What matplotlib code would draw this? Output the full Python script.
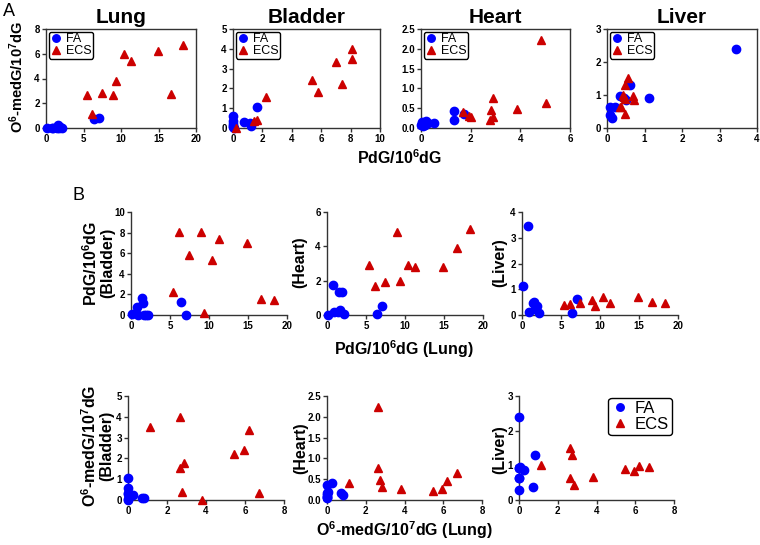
import matplotlib
matplotlib.use("Agg")
import matplotlib.pyplot as plt
from matplotlib.ticker import MultipleLocator, FormatStrFormatter

plt.rcParams['font.family'] = ['Liberation Sans', 'DejaVu Sans']
plt.rcParams['font.weight'] = 'bold'
plt.rcParams['mathtext.default'] = 'regular'

# FA group, 10 animals (PdG per 10^6 dG, O6-medG per 10^7 dG)
fa_lung_pdg = [0.15, 0.8, 0.87, 1.45, 1.58, 1.68, 1.9, 2.15, 6.35, 7.0]
fa_lung_o6 = [0.0, 0.0, 0.0, 0.0, 0.26, 0.0, 0.05, 0.0, 0.72, 0.8]
fa_bladder_pdg = [0.1, 0.75, 0.0, 1.65, 1.13, 0.0, 0.03, 0.03, 1.23, 0.0]
fa_bladder_o6 = [0.0, 0.3, 0.59, 1.07, 0.24, 0.35, 0.19, 0.03, 0.11, 0.11]
fa_heart_pdg = [0.0, 1.74, 0.19, 0.17, 1.33, 0.27, 1.32, 0.08, 0.06, 0.54]
fa_heart_o6 = [0.07, 0.36, 0.17, 0.08, 0.42, 0.13, 0.2, 0.06, 0.16, 0.12]
fa_liver_pdg = [1.11, 3.45, 0.12, 0.45, 0.5, 0.22, 0.35, 0.09, 0.09, 0.61]
fa_liver_o6 = [0.92, 2.4, 0.3, 0.92, 0.86, 0.63, 0.96, 0.63, 0.38, 1.31]

# ECS group, 10 animals
ecs_lung_pdg = [5.4, 6.1, 7.4, 8.95, 9.35, 10.4, 11.3, 14.9, 16.65, 18.3]
ecs_lung_o6 = [2.65, 1.15, 2.85, 2.65, 3.8, 5.95, 5.45, 6.2, 2.75, 6.7]
ecs_bladder_pdg = [2.25, 8.1, 5.8, 8.1, 0.2, 5.35, 7.4, 7.0, 1.6, 1.45]
ecs_bladder_o6 = [1.55, 3.5, 1.8, 4.0, 0.0, 2.4, 2.2, 3.35, 0.39, 0.35]
ecs_heart_pdg = [2.9, 1.7, 1.93, 4.82, 2.0, 2.9, 2.78, 2.82, 3.88, 5.03]
ecs_heart_o6 = [0.77, 0.41, 0.31, 2.23, 0.27, 0.27, 0.21, 0.45, 0.49, 0.64]
ecs_liver_pdg = [0.37, 0.43, 0.48, 0.57, 0.35, 0.71, 0.48, 0.70, 0.49, 0.46]
ecs_liver_o6 = [0.64, 1.0, 0.42, 1.51, 0.65, 0.84, 0.88, 0.98, 1.31, 0.94]

BLUE = '#0000ff'
RED = '#cc0000'
SPINE = '#333333'

W, H = 760, 545
fig = plt.figure(figsize=(W / 100, H / 100), dpi=100)


def px_axes(x0, y0, x1, y1):
    return fig.add_axes([x0 / W, 1 - y1 / H, (x1 - x0) / W, (y1 - y0) / H])


def px_text(x, y, s, **kw):
    fig.text(x / W, 1 - y / H, s, **kw)


def draw(ax, fx, fy, ex, ey, xlim, xstep, ylim, ystep, box=True, yfmt='%g'):
    ax.plot(fx, fy, 'o', color=BLUE, ms=6, mec=BLUE, clip_on=False, label='FA', zorder=3)
    ax.plot(ex, ey, '^', color=RED, ms=6, mec=RED, clip_on=False, label='ECS', zorder=3)
    ax.set_xlim(*xlim)
    ax.set_ylim(*ylim)
    ax.xaxis.set_major_locator(MultipleLocator(xstep))
    ax.yaxis.set_major_locator(MultipleLocator(ystep))
    ax.yaxis.set_major_formatter(FormatStrFormatter(yfmt))
    ax.tick_params(direction='out', length=3, width=1, labelsize=7, pad=1.5, color=SPINE)
    for side in ['left', 'bottom', 'top', 'right']:
        ax.spines[side].set_color(SPINE)
        ax.spines[side].set_linewidth(1)
    if not box:
        ax.spines['top'].set_visible(False)
        ax.spines['right'].set_visible(False)


pdg_lab = 'PdG/10$^{6}$dG'
o6_lab = 'O$^{6}$-medG/10$^{7}$dG'

# ---- A: PdG vs O6-medG in each tissue
top = [
    ('Lung', (46, 196), fa_lung_pdg, fa_lung_o6, ecs_lung_pdg, ecs_lung_o6, (0, 20), 5, (0, 8), 2, '%g'),
    ('Bladder', (233, 380), fa_bladder_pdg, fa_bladder_o6, ecs_bladder_pdg, ecs_bladder_o6, (0, 10), 2, (0, 5), 1, '%g'),
    ('Heart', (421, 570), fa_heart_pdg, fa_heart_o6, ecs_heart_pdg, ecs_heart_o6, (0, 6), 2, (0, 2.5), 0.5, '%.1f'),
    ('Liver', (607, 757), fa_liver_pdg, fa_liver_o6, ecs_liver_pdg, ecs_liver_o6, (0, 4), 1, (0, 3), 1, '%g'),
]
for name, (x0, x1), fx, fy, ex, ey, xl, xs, yl, ys, yf in top:
    ax = px_axes(x0, 29, x1, 128)
    draw(ax, fx, fy, ex, ey, xl, xs, yl, ys, box=True, yfmt=yf)
    ax.set_title(name, fontsize=15, fontweight='bold', pad=4)
    ax.legend(loc='upper left', prop={'weight': 'normal', 'size': 9}, frameon=True,
              edgecolor='black', fancybox=True, framealpha=1, handletextpad=0.3,
              borderpad=0.12, labelspacing=0.0, handlelength=1.0, borderaxespad=0.2,
              markerscale=0.9)

px_text(17, 77, o6_lab, rotation=90, ha='center', va='center', fontsize=10.5)
px_text(400, 158, pdg_lab, ha='center', va='center', fontsize=11.5)

# ---- B row 1: lung PdG vs tissue PdG
row1 = [
    ((131, 287), fa_bladder_pdg, ecs_bladder_pdg, (0, 10), 2),
    ((327, 483), fa_heart_pdg, ecs_heart_pdg, (0, 6), 2),
    ((522, 678), fa_liver_pdg, ecs_liver_pdg, (0, 4), 1),
]
for (x0, x1), fy, ey, yl, ys in row1:
    ax = px_axes(x0, 212, x1, 315)
    draw(ax, fa_lung_pdg, fy, ecs_lung_pdg, ey, (0, 20), 5, yl, ys, box=False)

px_text(98, 263, pdg_lab + '\n(Bladder)', rotation=90, ha='center', va='center',
        fontsize=11.5, multialignment='center', linespacing=1.0)
px_text(300, 262, '(Heart)', rotation=90, ha='center', va='center', fontsize=11.5)
px_text(500, 263, '(Liver)', rotation=90, ha='center', va='center', fontsize=11.5)
px_text(404, 349, pdg_lab + ' (Lung)', ha='center', va='center', fontsize=11.5)

# ---- B row 2: lung O6-medG vs tissue O6-medG
row2 = [
    ((128, 284), fa_bladder_o6, ecs_bladder_o6, (0, 5), 1, '%g'),
    ((327, 482), fa_heart_o6, ecs_heart_o6, (0, 2.5), 0.5, '%.1f'),
    ((519, 674), fa_liver_o6, ecs_liver_o6, (0, 3), 1, '%g'),
]
for (x0, x1), fy, ey, yl, ys, yf in row2:
    ax = px_axes(x0, 396, x1, 500)
    draw(ax, fa_lung_o6, fy, ecs_lung_o6, ey, (0, 8), 2, yl, ys, box=False, yfmt=yf)
last = ax
last.legend(loc='upper right', prop={'weight': 'normal', 'size': 12}, frameon=True,
            edgecolor='black', fancybox=True, framealpha=1, handletextpad=0.4,
            borderpad=0.2, labelspacing=0.05, handlelength=1.0, borderaxespad=0.1,
            markerscale=0.9)

px_text(97, 446, o6_lab + '\n(Bladder)', rotation=90, ha='center', va='center',
        fontsize=11.5, multialignment='center', linespacing=1.0)
px_text(301, 448, '(Heart)', rotation=90, ha='center', va='center', fontsize=11.5)
px_text(500, 450, '(Liver)', rotation=90, ha='center', va='center', fontsize=11.5)
px_text(404, 530, o6_lab + ' (Lung)', ha='center', va='center', fontsize=11.5)

px_text(3, 11, 'A', ha='left', va='center', fontsize=13, fontweight='normal')
px_text(72, 195, 'B', ha='left', va='center', fontsize=13, fontweight='normal')

fig.savefig('out.png', dpi=100)
